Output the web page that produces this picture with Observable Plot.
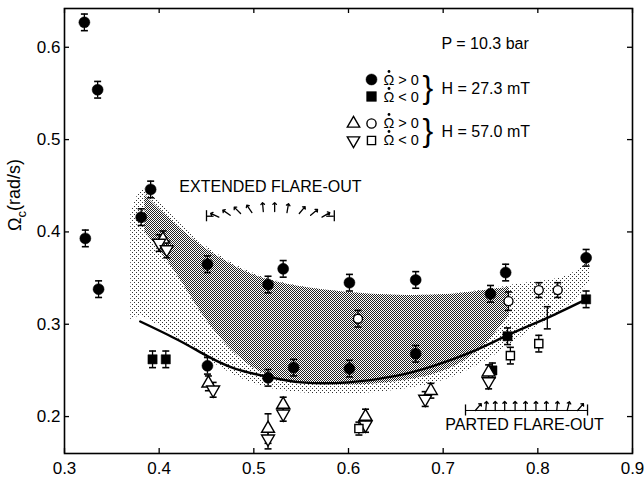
<!DOCTYPE html>
<html><head><meta charset="utf-8">
<script src="https://cdn.jsdelivr.net/npm/d3@7"></script>
<script src="https://cdn.jsdelivr.net/npm/@observablehq/plot@0.6"></script>
<style>
html,body{margin:0;padding:0;background:#fff;}
#chart svg{display:block;}
</style></head><body><div id="chart"></div>
<script>
// ---- axes ----
const xTicks = [0.3, 0.4, 0.5, 0.6, 0.7, 0.8, 0.9];
const yTicks = [0.2, 0.3, 0.4, 0.5, 0.6];
const yLabelText = "Ωc(rad/s)";

// ---- H = 27.3 mT, Ω̇ > 0 : filled circles ----
const fcX = [0.321, 0.335, 0.322, 0.336, 0.391, 0.381, 0.451, 0.515, 0.531, 0.601, 0.671, 0.750, 0.766, 0.851, 0.451, 0.515, 0.542, 0.601, 0.671];
const fcY = [0.627, 0.554, 0.393, 0.338, 0.446, 0.416, 0.365, 0.343, 0.360, 0.345, 0.348, 0.333, 0.356, 0.372, 0.255, 0.242, 0.253, 0.252, 0.268];
const fcE = [0.009, 0.009, 0.009, 0.009, 0.009, 0.009, 0.009, 0.009, 0.009, 0.009, 0.009, 0.009, 0.009, 0.009, 0.009, 0.009, 0.009, 0.009, 0.009];
// ---- H = 27.3 mT, Ω̇ < 0 : filled squares ----
const fsX = [0.393, 0.407, 0.752, 0.768, 0.851];
const fsY = [0.262, 0.262, 0.250, 0.287, 0.327];
const fsE = [0.009, 0.009, 0.008, 0.009, 0.009];
// ---- H = 57.0 mT, Ω̇ > 0 : open triangles up / open circles ----
const tuX = [0.404, 0.452, 0.515, 0.531, 0.618, 0.687, 0.748];
const tuY = [0.392, 0.236, 0.187, 0.213, 0.200, 0.228, 0.248];
const tuE = [0.009, 0.008, 0.016, 0.008, 0.008, 0.008, 0.008];
const ocX = [0.610, 0.769, 0.801, 0.821];
const ocY = [0.306, 0.325, 0.337, 0.337];
const ocE = [0.009, 0.010, 0.008, 0.008];
// ---- H = 57.0 mT, Ω̇ < 0 : open triangles down / open squares ----
const tdX = [0.400, 0.408, 0.457, 0.515, 0.531, 0.618, 0.681, 0.748];
const tdY = [0.388, 0.381, 0.229, 0.176, 0.203, 0.191, 0.219, 0.238];
const tdE = [0.009, 0.009, 0.008, 0.011, 0.008, 0.008, 0.008, 0.008];
const osX = [0.611, 0.771, 0.801];
const osY = [0.187, 0.266, 0.279];
const osE = [0.007, 0.009, 0.009];
// ---- lone error bar ----
const barX = [0.810];
const barY = [0.307];
const barE = [0.012];

// ---- solid curve ----
const curveX = [0.380, 0.420, 0.450, 0.480, 0.515, 0.550, 0.600, 0.650, 0.690, 0.730, 0.770, 0.810, 0.851];
const curveY = [0.303, 0.283, 0.266, 0.252, 0.243, 0.237, 0.237, 0.244, 0.255, 0.270, 0.289, 0.307, 0.327];

// ---- shaded regions ----
const shadeOuterX = [0.370, 0.380, 0.390, 0.420, 0.450, 0.500, 0.550, 0.600, 0.650, 0.700, 0.750, 0.780, 0.810, 0.835, 0.855];
const shadeOuterTop = [0.420, 0.450, 0.445, 0.410, 0.382, 0.352, 0.340, 0.334, 0.331, 0.331, 0.338, 0.344, 0.347, 0.352, 0.370];
const shadeOuterBottom = [0.305, 0.310, 0.305, 0.285, 0.262, 0.232, 0.225, 0.223, 0.228, 0.236, 0.262, 0.285, 0.305, 0.320, 0.345];
const shadeDenseX = [0.385, 0.420, 0.450, 0.500, 0.550, 0.600, 0.650, 0.700, 0.740, 0.770];
const shadeDenseTop = [0.440, 0.405, 0.380, 0.350, 0.340, 0.334, 0.331, 0.331, 0.336, 0.340];
const shadeDenseBottom = [0.400, 0.355, 0.300, 0.245, 0.236, 0.233, 0.237, 0.246, 0.270, 0.310];

// ---- annotations ----
const noteText = ["EXTENDED FLARE-OUT", "PARTED FLARE-OUT"];
const noteX = [0.5176, 0.786];
const noteY = [0.449, 0.191];
const extEndX = [0.450, 0.585];
const extEndY = [0.417, 0.417];
const extArrowX = [0.463, 0.475, 0.486, 0.498, 0.510, 0.522, 0.535, 0.548, 0.560, 0.572];
const extArrowY = [0.416, 0.418, 0.420, 0.421, 0.422, 0.422, 0.421, 0.420, 0.418, 0.416];
const extArrowAngle = [-65, -55, -45, -35, -5, 0, 10, 40, 50, 60];
const partEndX = [0.7236, 0.8525];
const partEndY = [0.2066, 0.2066];
const partArrowX = [0.734, 0.745, 0.755, 0.765, 0.776, 0.787, 0.798, 0.809, 0.820, 0.831, 0.842];
const partArrowY = [0.2066, 0.2066, 0.2066, 0.2066, 0.2066, 0.2066, 0.2066, 0.2066, 0.2066, 0.2066, 0.2066];
const partArrowAngle = [40, 5, 0, 0, 0, 0, 0, 0, 5, 15, 40];

// ---- legend texts ----
const pressureText = "P = 10.3 bar";
const upText = "Ω > 0";    // Ω̇ > 0 (dot drawn above Ω)
const downText = "Ω < 0";  // Ω̇ < 0
const field1Text = "H = 27.3 mT";
const field2Text = "H = 57.0 mT";

// ---------------------------------------------------------------
const FONT = "'Liberation Sans', Arial, sans-serif";
const zipRows = (xs, ys, es) => xs.map((x, i) => ({x, y: ys[i], e: es ? es[i] : 0}));
const fc = zipRows(fcX, fcY, fcE), fs = zipRows(fsX, fsY, fsE);
const tu = zipRows(tuX, tuY, tuE), td = zipRows(tdX, tdY, tdE);
const oc = zipRows(ocX, ocY, ocE), os = zipRows(osX, osY, osE);
const bar = zipRows(barX, barY, barE);
const allErr = [...fc, ...fs, ...tu, ...td, ...oc, ...os, ...bar];
const curve = zipRows(curveX, curveY);
const outer = shadeOuterX.map((x, i) => ({x, y1: shadeOuterBottom[i], y2: shadeOuterTop[i]}));
const dense = shadeDenseX.map((x, i) => ({x, y1: shadeDenseBottom[i], y2: shadeDenseTop[i]}));
const notes = noteText.map((t, i) => ({t, x: noteX[i], y: noteY[i]}));
const extEnds = zipRows(extEndX, extEndY);
const partEnds = zipRows(partEndX, partEndY);
const extArrows = extArrowX.map((x, i) => ({x, y: extArrowY[i], a: extArrowAngle[i]}));
const partArrows = partArrowX.map((x, i) => ({x, y: partArrowY[i], a: partArrowAngle[i]}));

const cap = {draw(ctx, size) { const r = Math.sqrt(size / Math.PI); ctx.moveTo(-r, 0); ctx.lineTo(r, 0); }};
const W = 644, H = 481, mL = 64, mR = 12, mT = 8, mB = 28;
const iw = W - mL - mR, ih = H - mT - mB;

const leg = (text, dx, dy, extra = {}) => Plot.text([text], {frameAnchor: "top-left", dx, dy, textAnchor: "start", lineAnchor: "middle", fontSize: 16, fill: "black", ...extra});
const legDot = (symbol, dx, dy, filled, extra = {}) => Plot.dot([0], {frameAnchor: "top-left", dx, dy, symbol, r: filled ? 5.5 : 4.6,
  fill: filled ? "black" : "white", stroke: "black", strokeWidth: filled ? 0.5 : 1.4, ...extra});
const omegaDot = (dx, dy) => Plot.dot([0], {frameAnchor: "top-left", dx, dy, r: 1.4, fill: "black", stroke: "none"});
const OFS = 14.5;

const plot = Plot.plot({
  width: W, height: H,
  marginLeft: mL, marginRight: mR, marginTop: mT, marginBottom: mB,
  style: {fontFamily: FONT, background: "white", color: "black"},
  x: {domain: [0.3, 0.9]},
  y: {domain: [0.16, 0.642]},
  marks: [
    Plot.areaY(outer, {x: "x", y1: "y1", y2: "y2", fill: "url(#stipple)", curve: "basis"}),
    Plot.areaY(dense, {x: "x", y1: "y1", y2: "y2", fill: "url(#checker)", curve: "basis"}),
    Plot.line(curve, {x: "x", y: "y", curve: "natural", stroke: "black", strokeWidth: 2.4}),
    // error bars
    Plot.ruleX(allErr, {x: "x", y1: d => d.y - d.e, y2: d => d.y + d.e, stroke: "black", strokeWidth: 1.3}),
    Plot.dot(allErr, {x: "x", y: d => d.y + d.e, symbol: cap, r: 3.5, fill: "none", stroke: "black", strokeWidth: 1.6}),
    Plot.dot(allErr, {x: "x", y: d => d.y - d.e, symbol: cap, r: 3.5, fill: "none", stroke: "black", strokeWidth: 1.6}),
    // markers
    Plot.dot(fc, {x: "x", y: "y", symbol: "circle", r: 5.5, fill: "black", stroke: "black", strokeWidth: 0.5}),
    Plot.dot(fs, {x: "x", y: "y", symbol: "square", r: 5.2, fill: "black", stroke: "black", strokeWidth: 0.5}),
    Plot.dot(tu, {x: "x", y: "y", symbol: "triangle", r: 4.8, fill: "white", stroke: "black", strokeWidth: 1.4}),
    Plot.dot(td, {x: "x", y: "y", symbol: "triangle", rotate: 180, r: 4.8, fill: "white", stroke: "black", strokeWidth: 1.4}),
    Plot.dot(oc, {x: "x", y: "y", symbol: "circle", r: 4.5, fill: "white", stroke: "black", strokeWidth: 1.4}),
    Plot.dot(os, {x: "x", y: "y", symbol: "square", r: 4.6, fill: "white", stroke: "black", strokeWidth: 1.4}),
    // annotations
    Plot.text(notes, {x: "x", y: "y", text: "t", fontSize: 16, fill: "black"}),
    Plot.ruleX(extEnds, {x: "x", y1: d => d.y - 0.006, y2: d => d.y + 0.006, stroke: "black", strokeWidth: 1.3}),
    Plot.ruleY([extEnds[0]], {y: "y", x1: "x", x2: d => d.x + 0.008, stroke: "black", strokeWidth: 1.3}),
    Plot.ruleY([extEnds[1]], {y: "y", x1: "x", x2: d => d.x - 0.008, stroke: "black", strokeWidth: 1.3}),
    Plot.vector(extArrows, {x: "x", y: "y", rotate: "a", length: 9, anchor: "start", stroke: "black", strokeWidth: 1.3}),
    Plot.ruleX(partEnds, {x: "x", y1: d => d.y - 0.006, y2: d => d.y + 0.006, stroke: "black", strokeWidth: 1.3}),
    Plot.ruleY([partEnds], {y: d => d[0].y, x1: d => d[0].x, x2: d => d[1].x, stroke: "black", strokeWidth: 1}),
    Plot.vector(partArrows, {x: "x", y: "y", rotate: "a", length: 9, anchor: "start", stroke: "black", strokeWidth: 1.3}),
    // legend
    leg(pressureText, 377, 35),
    legDot("circle", 307, 71, true),
    leg(upText, 319, 72, {fontSize: OFS}), omegaDot(324.5, 63),
    legDot("square", 307, 88, true),
    leg(downText, 319, 89, {fontSize: OFS}), omegaDot(324.5, 80),
    leg("}", 358, 79, {fontSize: 32, fontWeight: 300}),
    leg(field1Text, 377, 80),
    legDot("triangle", 289, 115, false),
    legDot("circle", 307, 115, false),
    leg(upText, 319, 115, {fontSize: OFS}), omegaDot(324.5, 106),
    legDot("triangle", 289, 132, false, {rotate: 180}),
    legDot("square", 307, 132, false),
    leg(downText, 319, 132, {fontSize: OFS}), omegaDot(324.5, 123),
    leg("}", 358, 122, {fontSize: 32, fontWeight: 300}),
    leg(field2Text, 377, 123),
    // axes
    Plot.axisX(xTicks, {anchor: "bottom", tickSize: 0, tickPadding: 8, fontSize: 17, tickFormat: d3.format(".1f"), label: null}),
    Plot.axisY(yTicks, {anchor: "left", tickSize: 0, tickPadding: 4, fontSize: 17, tickFormat: d3.format(".1f"), label: null}),
    Plot.ruleX(xTicks, {x: d => d, insetTop: ih - 5, stroke: "black", strokeWidth: 1.3}),
    Plot.ruleX(xTicks, {x: d => d, insetBottom: ih - 5, stroke: "black", strokeWidth: 1.3}),
    Plot.ruleY(yTicks, {y: d => d, insetRight: iw - 5, stroke: "black", strokeWidth: 1.3}),
    Plot.ruleY(yTicks, {y: d => d, insetLeft: iw - 5, stroke: "black", strokeWidth: 1.3}),
    Plot.text([yLabelText], {frameAnchor: "left", dx: -49, rotate: -90, fontSize: 18, fill: "black", className: "ylab"}),
    Plot.frame({stroke: "black", strokeWidth: 1.6})
  ]
});

// patterns for the halftone shading
const ns = "http://www.w3.org/2000/svg";
const defs = document.createElementNS(ns, "defs");
defs.innerHTML =
  '<pattern id="checker" width="2" height="2" patternUnits="userSpaceOnUse">' +
  '<rect width="1" height="1" fill="#222"/><rect x="1" y="1" width="1" height="1" fill="#222"/></pattern>' +
  '<pattern id="stipple" width="4" height="4" patternUnits="userSpaceOnUse">' +
  '<rect width="1" height="1" fill="#333"/><rect x="2" y="2" width="1" height="1" fill="#333"/></pattern>';
plot.insertBefore(defs, plot.firstChild);

// subscript in the y label
const yl = plot.querySelector(".ylab text") || [...plot.querySelectorAll("text")].find(t => t.textContent === yLabelText);
if (yl) {
  yl.textContent = "";
  const mk = (s, attrs) => { const t = document.createElementNS(ns, "tspan"); t.textContent = s; for (const k in attrs) t.setAttribute(k, attrs[k]); yl.appendChild(t); };
  mk("Ω", {});
  mk("c", {dy: "0.35em", "font-size": "13"});
  mk("(rad/s)", {dy: "-0.35em"});
}
document.getElementById("chart").appendChild(plot);
</script></body></html>
